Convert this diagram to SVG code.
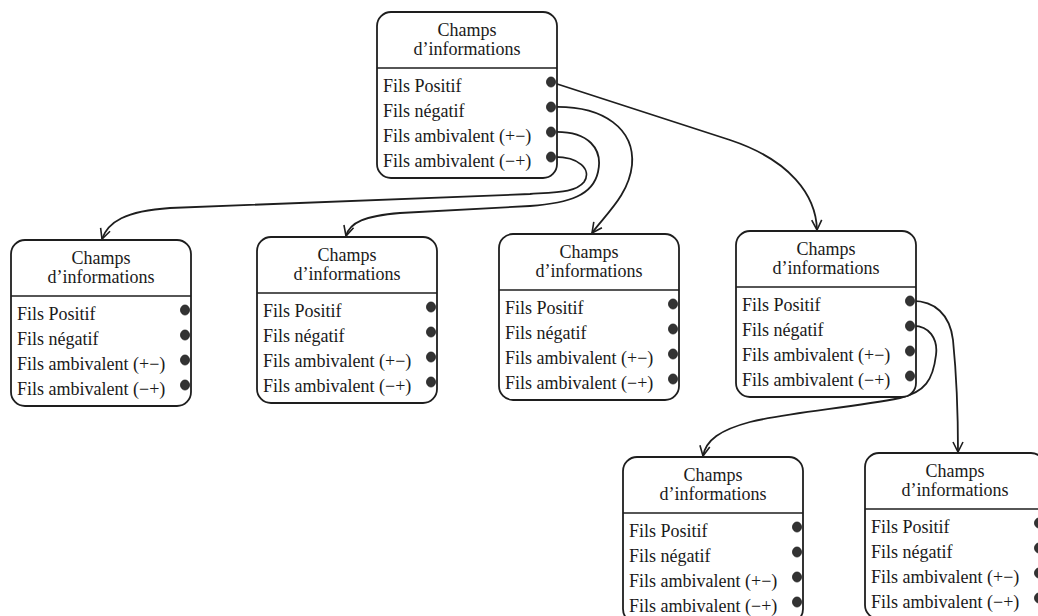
<svg xmlns="http://www.w3.org/2000/svg" width="1038" height="616" viewBox="0 0 1038 616">
<style>
.box{fill:#fff;stroke:#1e1e1e;stroke-width:1.8}
.div{stroke:#1e1e1e;stroke-width:1.6}
text{font-family:"Liberation Serif","Times New Roman",serif;font-size:18px;fill:#1a1a1a}
.hdr{text-anchor:middle}
.dot{fill:#333;stroke:#1e1e1e;stroke-width:0.8}
.con{fill:none;stroke:#1e1e1e;stroke-width:1.8;marker-end:url(#arr)}
</style>
<defs>
<marker id="arr" viewBox="0 0 12 12" refX="11" refY="6" markerWidth="12" markerHeight="12" markerUnits="userSpaceOnUse" orient="auto">
<path d="M1,1 L11,6 L1,11" fill="none" stroke="#1e1e1e" stroke-width="1.6"/>
</marker>
<g id="tpl">
<rect x="0" y="0" width="180" height="166" rx="14" class="box"/>
<line x1="0" y1="56" x2="180" y2="56" class="div"/>
<text x="90" y="24" class="hdr">Champs</text>
<text x="90" y="43" class="hdr">d’informations</text>
<text x="6" y="80">Fils Positif</text>
<text x="6" y="105">Fils négatif</text>
<text x="6" y="130">Fils ambivalent (+−)</text>
<text x="6" y="155">Fils ambivalent (−+)</text>
<ellipse cx="174" cy="70" rx="4.5" ry="5" class="dot"/>
<ellipse cx="174" cy="95" rx="4.5" ry="5" class="dot"/>
<ellipse cx="174" cy="120" rx="4.5" ry="5" class="dot"/>
<ellipse cx="174" cy="145" rx="4.5" ry="5" class="dot"/>
</g>
</defs>
<g id="connectors">
<path class="con" d="M551 82 L730 140 C790 160 816 195 817 230"/>
<path class="con" d="M551 107 C605 105 635 130 632 165 C629 195 605 215 592 233"/>
<path class="con" d="M551 132 C590 130 603 150 598 172 C593 195 570 203 530 206 L400 213 C365 216 350 222 346 236"/>
<path class="con" d="M551 157 C580 156 592 170 584 182 C576 192 560 192 530 194 L170 208 C125 211 108 222 102 239"/>
<path class="con" d="M910 301 C935 300 950 315 953 340 C957 380 958 420 958 452"/>
<path class="con" d="M910 326 C930 324 938 340 936 355 C933 380 925 392 900 398 C850 408 790 412 750 422 C720 430 706 440 703 456"/>
</g>
<g id="node-root" transform="translate(377,12)"><use href="#tpl"/></g>
<g id="node-a" transform="translate(11,240)"><use href="#tpl"/></g>
<g id="node-b" transform="translate(257,237)"><use href="#tpl"/></g>
<g id="node-c" transform="translate(499,234)"><use href="#tpl"/></g>
<g id="node-d" transform="translate(736,231)"><use href="#tpl"/></g>
<g id="node-e" transform="translate(623,457)"><use href="#tpl"/></g>
<g id="node-f" transform="translate(865,453)"><use href="#tpl"/></g>
</svg>
